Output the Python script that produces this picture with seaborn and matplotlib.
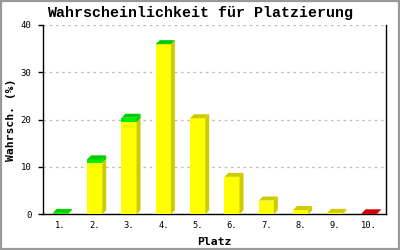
import matplotlib
matplotlib.use("Agg")
import matplotlib.pyplot as plt
import seaborn as sns
import numpy as np
import pandas as pd
from matplotlib.patches import Polygon, Rectangle

# ---- data ----
places = ["1.", "2.", "3.", "4.", "5.", "6.", "7.", "8.", "9.", "10."]
yellow_vals = [0.0, 10.9, 19.5, 35.9, 20.3, 7.9, 2.9, 0.9, 0.3, 0.0]
green_vals = [0.3, 0.7, 0.9, 0.05, 0.0, 0.0, 0.0, 0.0, 0.0, 0.0]
red_vals = [0.0, 0.0, 0.0, 0.0, 0.0, 0.0, 0.0, 0.0, 0.0, 0.2]
y_ticks = [0, 10, 20, 30, 40]

title = "Wahrscheinlichkeit für Platzierung"
xlabel = "Platz"
ylabel = "Wahrsch. (%)"

# colors: (front, side/top)
seg_colors = {
    "yellow": ("#FFFF00", "#CCCC00"),
    "green": ("#00EE00", "#00CC00"),
    "red": ("#EE0000", "#CC0000"),
}

sns.set_theme(style="white")
plt.rcParams["font.family"] = ["DejaVu Sans Mono", "DejaVu Sans"]

fig = plt.figure(figsize=(4, 2.5), dpi=100)
ax = fig.add_axes([0.108, 0.143, 0.858, 0.757])

df = pd.DataFrame({"place": places, "yellow": yellow_vals,
                   "green": green_vals, "red": red_vals})

segments = ["yellow", "green", "red"]
bottom = np.zeros(len(places))
seg_patches = {}
for seg in segments:
    n0 = len(ax.patches)
    sns.barplot(data=df, x="place", y=seg, order=places, color=seg_colors[seg][0],
                saturation=1, width=0.44, bottom=bottom.copy(), ax=ax,
                linewidth=0, edgecolor="none", zorder=3)
    seg_patches[seg] = ax.patches[n0:]
    bottom = bottom + df[seg].to_numpy()

ax.set_xlim(-0.5, len(places) - 0.5)
ax.set_ylim(0, 40)
ax.set_yticks(y_ticks)

# pixel-based depth converted to data units
fig.canvas.draw()
p0 = ax.transData.transform((0, 0))
p1 = ax.transData.transform((1, 1))
dx = 4.0 / (p1[0] - p0[0])
dy = 4.0 / (p1[1] - p0[1])

for i in range(len(places)):
    top_seg = None
    for seg in segments:
        if df[seg].iloc[i] > 0:
            top_seg = seg
    for seg in segments:
        p = seg_patches[seg][i]
        h = p.get_height()
        if h <= 0:
            continue
        x, y, w = p.get_x(), p.get_y(), p.get_width()
        side = Polygon([(x + w, y), (x + w + dx, y + dy), (x + w + dx, y + h + dy), (x + w, y + h)],
                       closed=True, facecolor=seg_colors[seg][1], edgecolor="none", zorder=3)
        ax.add_patch(side)
        if seg == top_seg:
            top = Polygon([(x, y + h), (x + w, y + h), (x + w + dx, y + h + dy), (x + dx, y + h + dy)],
                          closed=True, facecolor=seg_colors[seg][1], edgecolor="none", zorder=3)
            ax.add_patch(top)

# grid
ax.yaxis.grid(True, color="#BBBBBB", linestyle=(0, (2, 3)), linewidth=0.9, zorder=0)
ax.xaxis.grid(False)
ax.set_axisbelow(True)

# spines
for s in ["left", "bottom", "right"]:
    ax.spines[s].set_visible(True)
    ax.spines[s].set_color("black")
    ax.spines[s].set_linewidth(1.0)
ax.spines["top"].set_visible(False)

ax.tick_params(axis="y", which="major", length=3.6, width=1, color="black",
               direction="out", left=True, labelsize=6.5, pad=5, labelcolor="black")
ax.tick_params(axis="x", length=0, labelsize=6.3, pad=5, labelcolor="black")

fig.text(0.5, 0.948, title, fontsize=10.8, fontweight="bold",
         family=["Liberation Mono", "DejaVu Sans Mono"], ha="center", va="center", color="black")
ax.set_xlabel(xlabel, fontsize=8.2, fontweight="bold", labelpad=5, color="black")
ax.set_ylabel(ylabel, fontsize=8.2, fontweight="bold", labelpad=3.5, color="black")

# outer gray frame
fig.patches.append(Rectangle((0.0025, 0.004), 0.995, 0.992, transform=fig.transFigure,
                             fill=False, edgecolor="#999999", linewidth=1.6))

fig.savefig("out.png", dpi=100)
